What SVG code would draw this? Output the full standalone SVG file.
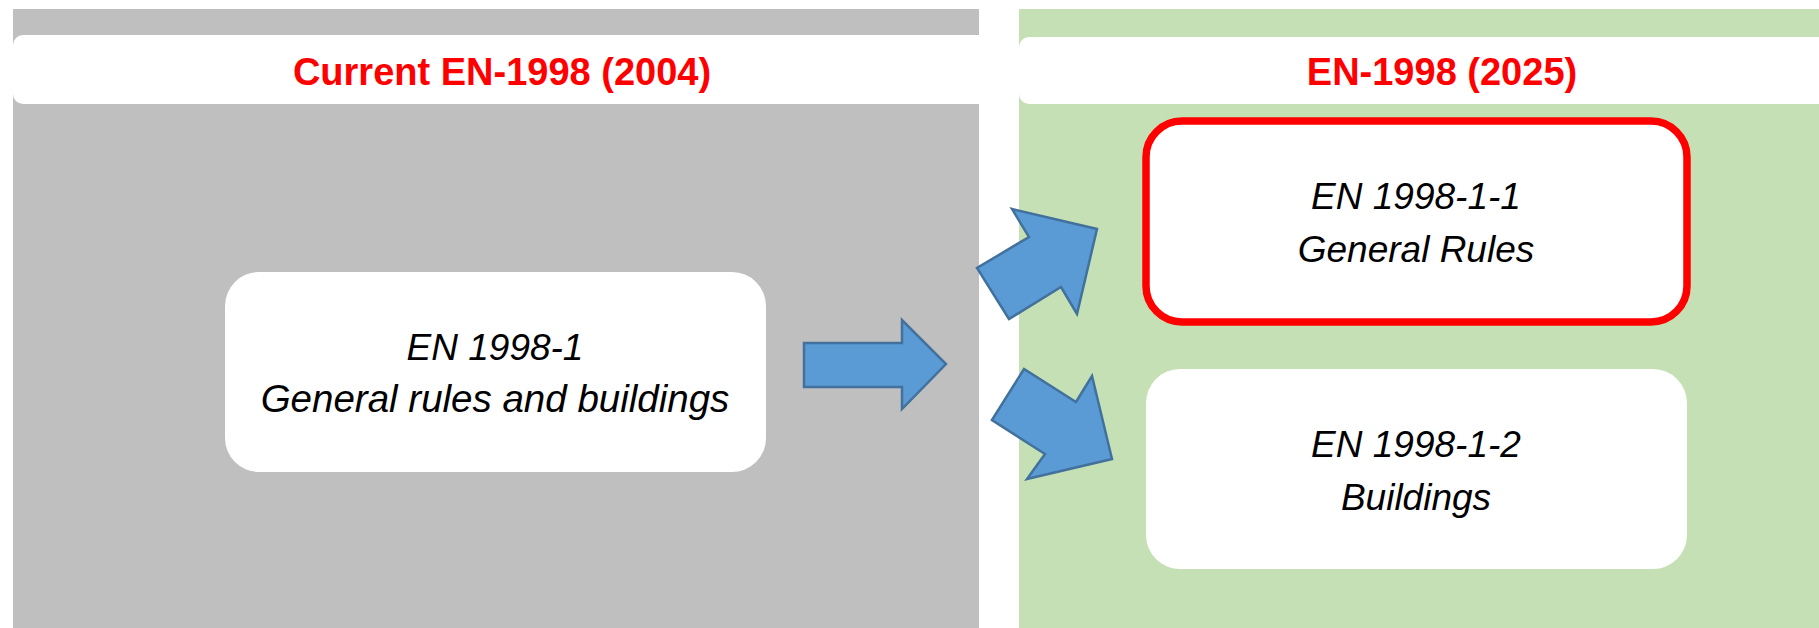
<svg xmlns="http://www.w3.org/2000/svg" width="1819" height="628" viewBox="0 0 1819 628">
<style>
.hdr{font-family:"Liberation Sans",Arial,sans-serif;font-weight:bold;font-size:38px;fill:#FF0000;text-anchor:middle}
.lbl{font-family:"Liberation Sans",Arial,sans-serif;font-style:italic;font-size:37px;fill:#000;text-anchor:middle}
.node{fill:#FFFFFF}
.arrow{fill:#5B9BD5;stroke:#41719C;stroke-width:2.5;stroke-linejoin:miter}
</style>
<rect width="1819" height="628" fill="#FFFFFF"/>
<g id="panel-current">
<rect x="13" y="9" width="966" height="619" fill="#BFBFBF"/>
<rect x="13" y="35" width="980" height="69" rx="10" fill="#FFFFFF"/>
<text class="hdr" x="502" y="85">Current EN-1998 (2004)</text>
</g>
<g id="panel-new">
<rect x="1019" y="9" width="800" height="619" fill="#C5E0B4"/>
<rect x="1019" y="37" width="820" height="67" rx="10" fill="#FFFFFF"/>
<text class="hdr" x="1442" y="85">EN-1998 (2025)</text>
</g>
<g id="node-en1998-1">
<rect class="node" x="225" y="272" width="541" height="200" rx="34"/>
<text class="lbl" x="495" y="360">EN 1998-1</text>
<text class="lbl" x="495" y="412" style="font-size:38.5px">General rules and buildings</text>
</g>
<g id="node-en1998-1-1">
<rect class="node" x="1146" y="121" width="541" height="201" rx="36" stroke="#FF0000" stroke-width="7.5"/>
<text class="lbl" x="1416" y="209">EN 1998-1-1</text>
<text class="lbl" x="1416" y="262">General Rules</text>
</g>
<g id="node-en1998-1-2">
<rect class="node" x="1146" y="369" width="541" height="200" rx="34"/>
<text class="lbl" x="1416" y="457">EN 1998-1-2</text>
<text class="lbl" x="1416" y="510">Buildings</text>
</g>
<g id="connectors">
<polygon class="arrow" points="804,343 902,343 902,320 946,364 902,409 902,387 804,387"/>
<polygon class="arrow" points="1009,319 977,268 1029,237 1012,209 1097,229 1077,314 1061,287"/>
<polygon class="arrow" points="992,420 1024,369 1076,402 1092,376 1112,459 1027,479 1045,454"/>
</g>
</svg>
